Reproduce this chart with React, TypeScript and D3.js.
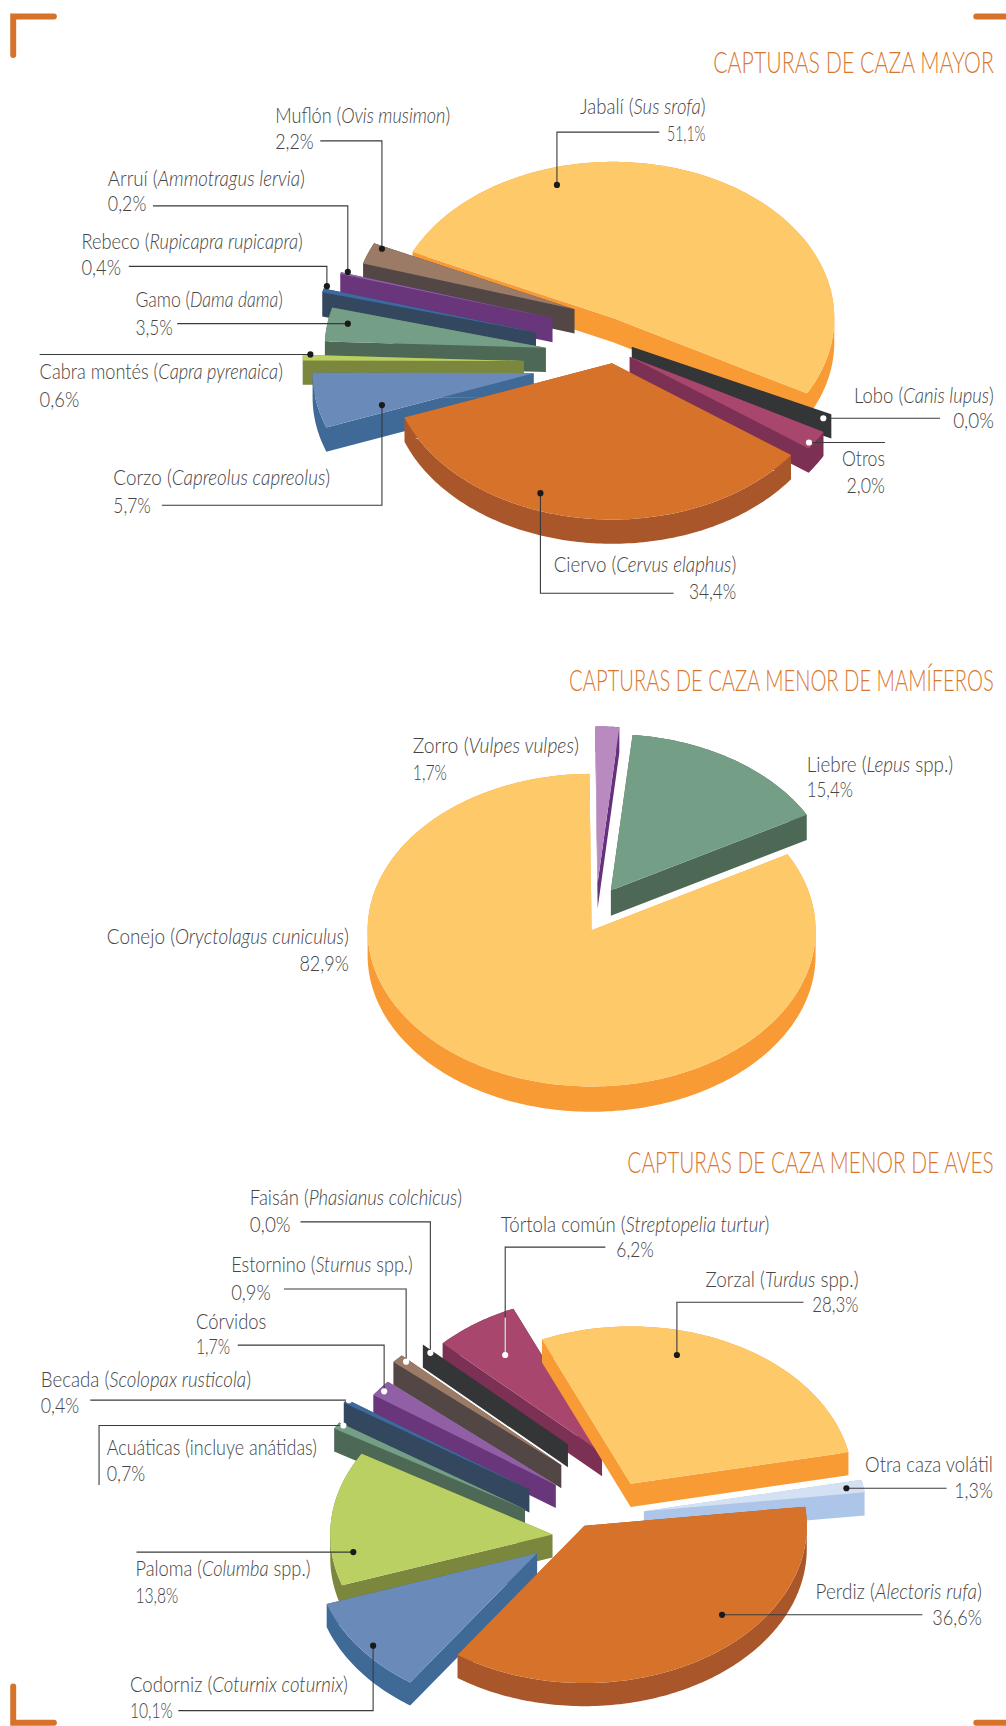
import React, { useLayoutEffect, useRef } from "react";
import * as d3 from "d3";

// ---------- data ----------
const mayorNames = ["Jabalí", "Lobo", "Otros", "Ciervo", "Corzo", "Cabra montés", "Gamo", "Rebeco", "Arruí", "Muflón"];
const mayorScience = ["Sus srofa", "Canis lupus", "", "Cervus elaphus", "Capreolus capreolus", "Capra pyrenaica", "Dama dama", "Rupicapra rupicapra", "Ammotragus lervia", "Ovis musimon"];
const mayorValues = [51.1, 0.0, 2.0, 34.4, 5.7, 0.6, 3.5, 0.4, 0.2, 2.2];
const mayorPct = ["51,1%", "0,0%", "2,0%", "34,4%", "5,7%", "0,6%", "3,5%", "0,4%", "0,2%", "2,2%"];

const mamNames = ["Conejo", "Zorro", "Liebre"];
const mamScience = ["Oryctolagus cuniculus", "Vulpes vulpes", "Lepus"];
const mamValues = [82.9, 1.7, 15.4];
const mamPct = ["82,9%", "1,7%", "15,4%"];

const avesNames = ["Zorzal", "Otra caza volátil", "Perdiz", "Codorniz", "Paloma", "Acuáticas (incluye anátidas)", "Becada", "Córvidos", "Estornino", "Faisán", "Tórtola común"];
const avesScience = ["Turdus", "", "Alectoris rufa", "Coturnix coturnix", "Columba", "", "Scolopax rusticola", "", "Sturnus", "Phasianus colchicus", "Streptopelia turtur"];
const avesSuffix = [" spp.)", "", ")", ")", " spp.)", "", ")", "", " spp.)", ")", ")"];
const avesValues = [28.3, 1.3, 36.6, 10.1, 13.8, 0.7, 0.4, 1.7, 0.9, 0.0, 6.2];
const avesPct = ["28,3%", "1,3%", "36,6%", "10,1%", "13,8%", "0,7%", "0,4%", "1,7%", "0,9%", "0,0%", "6,2%"];

// ---------- colours ----------
const C = {
  yellow: ["#FEC968", "#F99B34"],
  orange: ["#D6722A", "#A9572A"],
  blue: ["#6A8BBA", "#3F6997"],
  lime: ["#BBD062", "#7C873E"],
  green: ["#759E87", "#4D6956"],
  navy: ["#3C6A9E", "#33475F"],
  purple: ["#905FA6", "#69357B"],
  brown: ["#9B7B66", "#524745"],
  dark: ["#333537", "#343537"],
  plum: ["#A8466D", "#7C3154"],
  pale: ["#D3E1F3", "#ADC5E9"],
  lilac: ["#B88ABF", "#65307D"],
};
const mayorColors = [C.yellow, C.dark, C.plum, C.orange, C.blue, C.lime, C.green, C.navy, C.purple, C.brown];
const mamColors = [C.yellow, C.lilac, C.green];
const avesColors = [C.yellow, C.pale, C.orange, C.blue, C.lime, C.green, C.navy, C.purple, C.brown, C.dark, C.plum];

// ---------- layout (in the 914 x 1568 space of the viewBox) ----------
const mayorOffsets = [[557, 289], [574, 315], [572, 324], [556, 330], [485, 339], [476, 328], [496, 316], [487, 302], [502, 289], [522, 281]];
const mayorTurn = [0, -3.2, 0, 0, 0, 0, 0, 0, 0, 0];
const mamOffsets = [[537.5, 845], [543, 802], [555, 809]];
const avesOffsets = [[573, 1348], [585, 1373], [531, 1386], [488, 1411], [502, 1394], [477, 1371], [481, 1353], [505, 1349], [510, 1331], [516, 1312], [547, 1320]];
const avesRadius = [1, 1, 1, 1, 1, 1, 1, 1, 1, 0.91, 1];

const charts = [
  { values: mayorValues, colors: mayorColors, offsets: mayorOffsets, radius: null, turn: mayorTurn, start: 295, rx: 201, ry: 142, depth: 22, order: [0, 9, 8, 7, 6, 5, 4, 1, 2, 3] },
  { values: mamValues, colors: mamColors, offsets: mamOffsets, radius: null, turn: null, start: 61, rx: 203.5, ry: 142, depth: 23, order: [0, 1, 2] },
  { values: avesValues, colors: avesColors, offsets: avesOffsets, radius: avesRadius, turn: null, start: 336.5, rx: 202, ry: 143, depth: 21, order: [10, 0, 1, 9, 8, 7, 6, 5, 4, 3, 2] },
];

const titles = [
  { text: "CAPTURAS DE CAZA MAYOR", x: 648, w: 255, y: 66 },
  { text: "CAPTURAS DE CAZA MENOR DE MAMÍFEROS", x: 517, w: 386, y: 628 },
  { text: "CAPTURAS DE CAZA MENOR DE AVES", x: 570, w: 333, y: 1066 },
];

type Lab = { name: string; sci?: string; suf?: string; pct: string; x1: number; w1: number; y1: number; x2: number; w2: number; y2: number };
const lab = (name: string, sci: string, suf: string, pct: string, x1: number, w1: number, y1: number, x2: number, w2: number, y2: number): Lab => ({ name, sci, suf, pct, x1, w1, y1, x2, w2, y2 });

const labels: Lab[] = [
  lab(mayorNames[9], mayorScience[9], ")", mayorPct[9], 250, 159, 112, 250, 35, 135),
  lab(mayorNames[8], mayorScience[8], ")", mayorPct[8], 98, 179, 169, 98, 35, 192),
  lab(mayorNames[7], mayorScience[7], ")", mayorPct[7], 74, 201, 226, 74, 36, 250),
  lab(mayorNames[6], mayorScience[6], ")", mayorPct[6], 123, 134, 279, 123, 34, 304),
  lab(mayorNames[5], mayorScience[5], ")", mayorPct[5], 36, 221, 344, 36, 36, 370),
  lab(mayorNames[4], mayorScience[4], ")", mayorPct[4], 103, 197, 441, 103, 34, 466),
  lab(mayorNames[3], mayorScience[3], ")", mayorPct[3], 503, 166, 520, 626, 43, 544),
  lab(mayorNames[1], mayorScience[1], ")", mayorPct[1], 776, 127, 366, 866, 37, 389),
  lab(mayorNames[2], "", "", mayorPct[2], 765, 39, 423, 769, 35, 448),
  lab(mayorNames[0], mayorScience[0], ")", mayorPct[0], 527, 114, 104, 606, 35, 128),
  lab(mamNames[1], mamScience[1], ")", mamPct[1], 375, 151, 684, 375, 31, 709),
  lab(mamNames[2], mamScience[2], " spp.)", mamPct[2], 733, 133, 701, 733, 42, 724),
  lab(mamNames[0], mamScience[0], ")", mamPct[0], 97, 220, 858, 272, 45, 882),
  lab(avesNames[9], avesScience[9], avesSuffix[9], avesPct[9], 227, 193, 1095, 227, 37, 1119),
  lab(avesNames[8], avesScience[8], avesSuffix[8], avesPct[8], 210, 165, 1156, 210, 36, 1181),
  lab(avesNames[7], "", "", avesPct[7], 178, 64, 1207, 178, 31, 1230),
  lab(avesNames[6], avesScience[6], avesSuffix[6], avesPct[6], 37, 191, 1260, 37, 35, 1284),
  lab(avesNames[5], "", "", avesPct[5], 97, 191, 1322, 97, 35, 1345),
  lab(avesNames[4], avesScience[4], avesSuffix[4], avesPct[4], 123, 159, 1432, 123, 39, 1456),
  lab(avesNames[3], avesScience[3], avesSuffix[3], avesPct[3], 118, 198, 1537, 118, 39, 1561),
  lab(avesNames[10], avesScience[10], avesSuffix[10], avesPct[10], 455, 244, 1119, 560, 34, 1142),
  lab(avesNames[0], avesScience[0], avesSuffix[0], avesPct[0], 641, 139, 1169, 738, 42, 1192),
  lab(avesNames[1], "", "", avesPct[1], 786, 116, 1337, 867, 35, 1361),
  lab(avesNames[2], avesScience[2], avesSuffix[2], avesPct[2], 741, 151, 1453, 847, 45, 1476),
];

// leader polylines: the last point carries the dot; the flag makes it white
const leaders: { pts: number[][]; white?: boolean; tail?: number[][] }[] = [
  { pts: [[291, 128], [347, 128], [347, 226]] },
  { pts: [[139, 187], [316, 187], [316, 247]] },
  { pts: [[117, 242], [297, 242], [297, 260]] },
  { pts: [[161, 294], [316, 294]] },
  { pts: [[36, 322], [282, 322]] },
  { pts: [[147, 459], [347, 459], [347, 368]] },
  { pts: [[612, 539], [491, 539], [491, 448]] },
  { pts: [[854, 380], [748, 380]], white: true },
  { pts: [[804, 402], [735, 402]], white: true },
  { pts: [[599, 120], [506, 120], [506, 168]] },
  { pts: [[273, 1110], [391, 1110], [391, 1229]], white: true },
  { pts: [[258, 1171], [369, 1171], [369, 1237]], white: true },
  { pts: [[216, 1222], [349, 1222], [349, 1264]], white: true },
  { pts: [[82, 1272], [317, 1272]], white: true },
  { pts: [[90, 1349], [90, 1295], [312, 1295]], white: true },
  { pts: [[124, 1410], [321, 1410]] },
  { pts: [[162, 1554], [339, 1554], [339, 1495]] },
  { pts: [[550, 1133], [459, 1133], [459, 1231]], white: true, tail: [[459, 1197], [459, 1231]] },
  { pts: [[730, 1183], [615, 1183], [615, 1231]] },
  { pts: [[860, 1352], [769, 1352]] },
  { pts: [[838, 1467], [656, 1467]] },
];

const brackets = [
  [[49, 15], [12, 15], [12, 50]],
  [[887, 15], [918, 15]],
  [[12, 1532], [12, 1565], [49, 1565]],
  [[887, 1565], [918, 1565]],
];

// ---------- geometry ----------
const line = d3.line<number[]>().x((d) => d[0]).y((d) => d[1]);
const FONT = "Lato, 'Open Sans', sans-serif";

function Fit({ x, y, w, children }: { x: number; y: number; w: number; children: React.ReactNode }) {
  const ref = useRef<SVGTextElement>(null);
  useLayoutEffect(() => {
    const el = ref.current;
    if (!el) return;
    const n = el.getComputedTextLength();
    el.setAttribute("transform", `translate(${x},${y}) scale(${n > 0 ? w / n : 1},1)`);
  }, [x, y, w]);
  return (
    <text ref={ref} transform={`translate(${x},${y})`}>
      {children}
    </text>
  );
}

function Slices({ chart }: { chart: (typeof charts)[number] }) {
  const start = (chart.start * Math.PI) / 180;
  const arcs = d3.pie<number>().sort(null).startAngle(start).endAngle(start + 2 * Math.PI)(chart.values);
  return (
    <g>
      {chart.order.map((i) => {
        const a = arcs[i];
        const [cx, cy] = chart.offsets[i];
        const k = chart.radius ? chart.radius[i] : 1;
        const turn = chart.turn ? (chart.turn[i] * Math.PI) / 180 : 0;
        const xs = d3.scaleLinear().domain([-1, 1]).range([cx - chart.rx * k, cx + chart.rx * k]);
        const ys = d3.scaleLinear().domain([-1, 1]).range([cy - chart.ry * k, cy + chart.ry * k]);
        const steps = Math.max(1, Math.ceil(((a.endAngle - a.startAngle) * 180) / Math.PI));
        const poly: number[][] = [[cx, cy]];
        for (let s = 0; s <= steps; s++) {
          const t = a.startAngle + turn + ((a.endAngle - a.startAngle) * s) / steps;
          poly.push([xs(Math.sin(t)), ys(-Math.cos(t))]);
        }
        const closed = [...poly, poly[0]];
        let wall = "";
        for (let e = 0; e < closed.length - 1; e++) {
          const p = closed[e];
          const q = closed[e + 1];
          const area = (q[0] - p[0]) * chart.depth;
          if (area === 0) continue;
          const quad = [p, q, [q[0], q[1] + chart.depth], [p[0], p[1] + chart.depth]];
          wall += line(area > 0 ? quad : [...quad].reverse()) + "Z";
        }
        return (
          <g key={i}>
            <path d={wall} fill={chart.colors[i][1]} />
            <path d={line(poly) + "Z"} fill={chart.colors[i][0]} />
          </g>
        );
      })}
    </g>
  );
}

export default function App() {
  return (
    <svg
      viewBox="0 0 914 1568"
      width={1006}
      height={1726}
      preserveAspectRatio="none"
      style={{ position: "absolute", left: 0, top: 0, display: "block", background: "#fff" }}
      fontFamily={FONT}
    >
      {brackets.map((b, i) => (
        <path key={i} d={line(b) ?? ""} fill="none" stroke="#D6722A" strokeWidth={5.4} strokeLinecap="round" strokeLinejoin="miter" />
      ))}
      {charts.map((c, i) => (
        <Slices key={i} chart={c} />
      ))}
      {titles.map((t) => (
        <g key={t.text} fontSize={26} fontWeight={300} fill="#D9772F">
          <Fit x={t.x} y={t.y} w={t.w}>
            {t.text}
          </Fit>
        </g>
      ))}
      {labels.map((l, i) => (
        <g key={i} fontSize={19.5} fontWeight={300} fill="#454545">
          <Fit x={l.x1} y={l.y1} w={l.w1}>
            {l.sci ? (
              <>
                {l.name} (<tspan fontStyle="italic">{l.sci}</tspan>
                {l.suf}
              </>
            ) : (
              l.name
            )}
          </Fit>
          <Fit x={l.x2} y={l.y2} w={l.w2}>
            {l.pct}
          </Fit>
        </g>
      ))}
      {leaders.map((l, i) => {
        const end = l.pts[l.pts.length - 1];
        return (
          <g key={i}>
            <path d={line(l.pts) ?? ""} fill="none" stroke="#3a3a3a" strokeWidth={1} />
            {l.tail && <path d={line(l.tail) ?? ""} fill="none" stroke="#fff" strokeWidth={1} />}
            <circle cx={end[0]} cy={end[1]} r={2.8} fill={l.white ? "#fff" : "#1a1a1a"} />
          </g>
        );
      })}
    </svg>
  );
}
